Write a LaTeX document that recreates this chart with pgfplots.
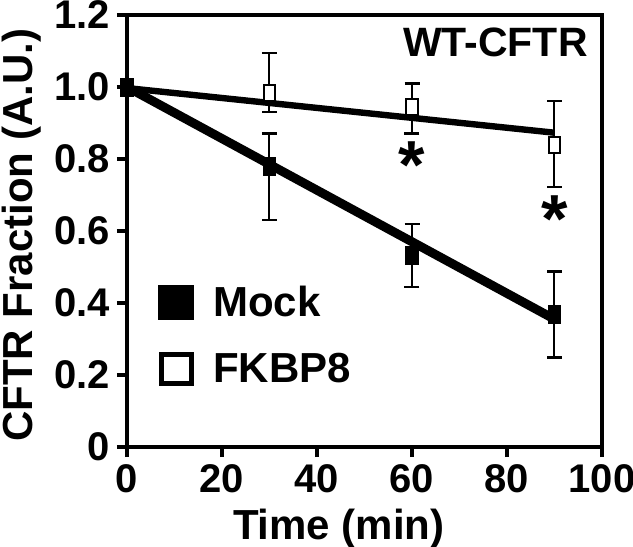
\documentclass[border=0pt]{standalone}
\usepackage{fontspec}
\setmainfont{Liberation Sans}
\usepackage{pgfplots}
\usepackage{pgfplotstable}
\pgfplotsset{compat=1.18}

% time, mean, error up, error down
\pgfplotstableread{
x y ep em
0 1.000 0 0
30 0.779 0.092 0.148
60 0.531 0.088 0.087
90 0.369 0.118 0.120
}\mock
\pgfplotstableread{
x y ep em
0 1.000 0 0
30 0.983 0.111 0.052
60 0.945 0.065 0.074
90 0.839 0.122 0.116
}\fkbp

\begin{document}
\begin{tikzpicture}
\begin{axis}[
    scale only axis, width=237.5pt, height=216pt,
    xmin=0, xmax=100, ymin=0, ymax=1.2,
    xtick={0,20,40,60,80,100},
    xticklabels={0,20,40,60,80,100},
    ytick={0,0.2,0.4,0.6,0.8,1.0,1.2},
    yticklabels={0,0.2,0.4,0.6,0.8,1.0,1.2},
    tick align=outside, tick pos=left, major tick length=5pt,
    axis line style={line width=2pt},
    tick style={black, line width=2pt},
    ticklabel style={font=\fontsize{20}{20}\selectfont\bfseries},
    xlabel={Time (min)}, ylabel={CFTR Fraction (A.U.)},
    label style={font=\fontsize{21}{21}\selectfont\bfseries},
    xlabel style={at={(axis description cs:0.446,-0.1435)}, anchor=north, inner sep=0pt},
    ylabel style={at={(axis description cs:-0.221,0.49)}, anchor=center, rotate=0, inner sep=0pt},
    legend style={at={(0.065,0.375)}, anchor=north west, draw=none, fill=none,
        inner sep=0pt, row sep=16pt, font=\fontsize{21}{21}\selectfont\bfseries,
        cells={anchor=west}, nodes={inner sep=0pt},
        /tikz/every odd column/.append style={column sep=9.5pt}},
]
% fitted lines
\addplot[black, line width=3.2pt, forget plot] coordinates {(0,0.997) (90,0.873)};
\addplot[black, line width=4.5pt, forget plot] coordinates {(0,1.0) (90,0.355)};
% FKBP8
\addplot[black, only marks, mark=square*, mark size=4pt,
    mark options={fill=white, line width=1pt, xscale=0.7}, forget plot,
    error bars/.cd, y dir=both, y explicit,
    error bar style={line width=1pt},
    error mark options={rotate=90, line width=1.2pt, mark size=3.75pt}]
    table[x=x, y=y, y error plus=ep, y error minus=em] {\fkbp};
% Mock
\addplot[black, only marks, mark=square*, mark size=4.5pt,
    mark options={fill=black, line width=0.5pt, xscale=0.7}, forget plot,
    error bars/.cd, y dir=both, y explicit,
    error bar style={line width=1pt},
    error mark options={rotate=90, line width=1.2pt, mark size=3.75pt}]
    table[x=x, y=y, y error plus=ep, y error minus=em] {\mock};
\addlegendimage{legend image code/.code={\draw[black, fill=black] (0pt,-8.5pt) rectangle (17.5pt,8.5pt);}}
\addlegendentry{Mock}
\addlegendimage{legend image code/.code={\draw[black, line width=2.5pt, fill=white] (1.25pt,-7.25pt) rectangle (16.25pt,7.25pt);}}
\addlegendentry{FKBP8}
\node[anchor=north east, inner sep=0pt, font=\fontsize{20.5}{20.5}\selectfont\bfseries]
    at (rel axis cs:0.9705,0.972) {WT-CFTR};
\node[anchor=north, inner sep=0pt, font=\fontsize{34}{34}\selectfont\bfseries]
    at (axis cs:60,0.848) {*};
\node[anchor=north, inner sep=0pt, font=\fontsize{34}{34}\selectfont\bfseries]
    at (axis cs:90,0.699) {*};
\end{axis}
\pgfresetboundingbox
\path (-63.5pt,-50pt) rectangle (253pt,223.5pt);
\end{tikzpicture}
\end{document}
